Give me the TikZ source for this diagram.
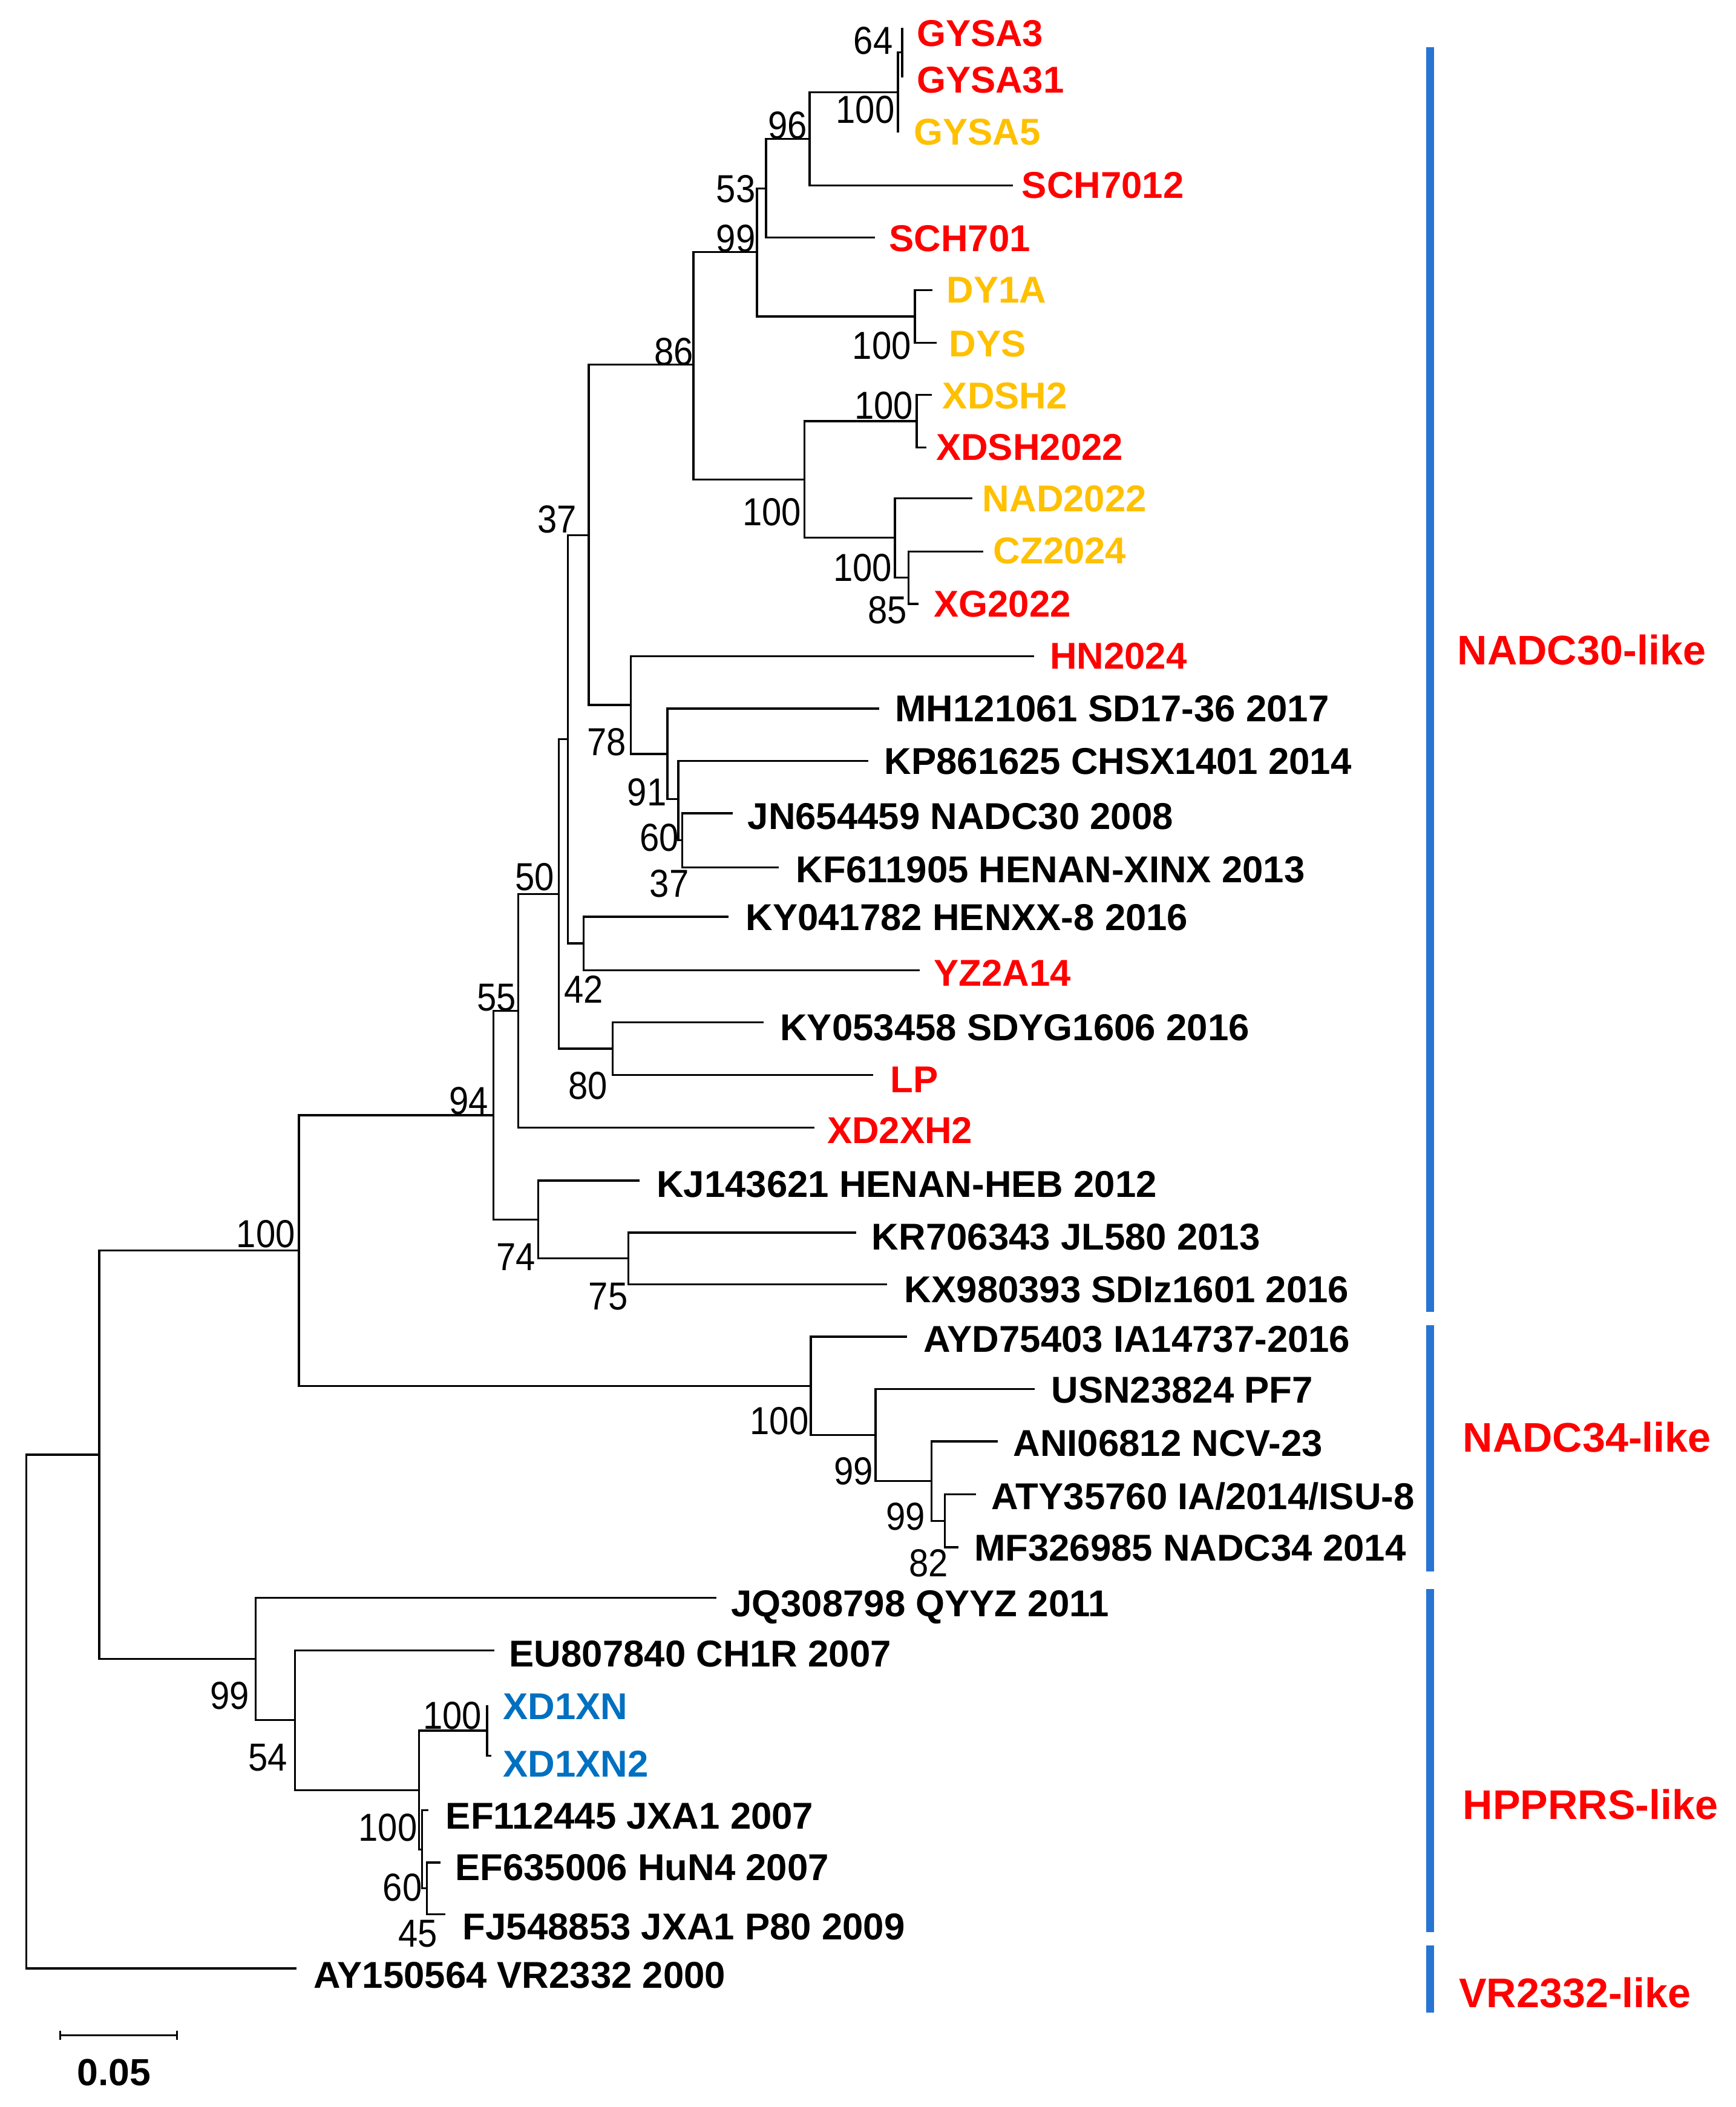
\documentclass[tikz,border=0pt]{standalone}
\usepackage{fontspec}
\setmainfont{Liberation Sans}
\newfontfamily\bsfont[FakeStretch=0.9]{Liberation Sans}
\definecolor{tred}{RGB}{255,0,0}
\definecolor{tgold}{RGB}{255,192,0}
\definecolor{tblue}{RGB}{0,112,192}
\definecolor{barblue}{RGB}{40,116,210}
\begin{document}
\begin{tikzpicture}[x=0.02cm,y=-0.02cm,
  br/.style={line width=0.85pt,black},
  bar/.style={line width=3.4pt,barblue},
  taxon/.style={anchor=west,inner sep=0pt,text height=11.3pt,text depth=0pt,font=\fontsize{15.8}{15.8}\selectfont\bfseries},
  boot/.style={anchor=center,inner sep=0pt,text height=11.8pt,text depth=0pt,font=\bsfont\fontsize{16.5}{16.5}\selectfont},
  grp/.style={anchor=west,inner sep=0pt,text height=12.5pt,text depth=0pt,text=tred,font=\fontsize{17.5}{17.5}\selectfont\bfseries}]
\useasboundingbox (0,0) rectangle (1290,1566);
% leaf tips
\coordinate (L1) at (670.5,20.5);
\coordinate (L2) at (670.5,57.7);
\coordinate (L3) at (667.4,98.3);
\coordinate (L4) at (752.7,137.9);
\coordinate (L5) at (650.2,176.4);
\coordinate (L6) at (693,215.6);
\coordinate (L7) at (696.4,254.8);
\coordinate (L8) at (692.6,293.6);
\coordinate (L9) at (688.5,332.5);
\coordinate (L10) at (722.9,370.5);
\coordinate (L11) at (731,409.9);
\coordinate (L12) at (682.5,448.8);
\coordinate (L13) at (768.5,487.7);
\coordinate (L14) at (653.5,526.6);
\coordinate (L15) at (645.4,565.5);
\coordinate (L16) at (544.5,604.4);
\coordinate (L17) at (578.8,644.6);
\coordinate (L18) at (541.6,681.4);
\coordinate (L19) at (683.6,721);
\coordinate (L20) at (567.4,759.8);
\coordinate (L21) at (649,799);
\coordinate (L22) at (605.3,838.2);
\coordinate (L23) at (475.2,877.4);
\coordinate (L24) at (636.2,916.1);
\coordinate (L25) at (659.2,954.5);
\coordinate (L26) at (674.2,993.5);
\coordinate (L27) at (769,1032.4);
\coordinate (L28) at (741.5,1071.3);
\coordinate (L29) at (725.4,1110.5);
\coordinate (L30) at (712.5,1150);
\coordinate (L31) at (532.7,1187.4);
\coordinate (L32) at (367.6,1226.6);
\coordinate (L33) at (362,1267.5);
\coordinate (L34) at (365.3,1305);
\coordinate (L35) at (318.2,1345.4);
\coordinate (L36) at (327.5,1384.3);
\coordinate (L37) at (331.1,1422.7);
\coordinate (L38) at (220.5,1463);
% internal nodes
\coordinate (nA) at (670.5,39);
\coordinate (nB) at (667.4,68.5);
\coordinate (n96) at (601.7,103.2);
\coordinate (n53) at (569.3,140);
\coordinate (n99a) at (562.6,187.3);
\coordinate (nDY) at (680,235.2);
\coordinate (nXD) at (681.3,313);
\coordinate (nCZ) at (675.2,429.3);
\coordinate (nNAD) at (665.2,399.5);
\coordinate (nBig) at (597.8,356.3);
\coordinate (n86) at (515.4,271.1);
\coordinate (n37b) at (507,624.5);
\coordinate (n60b) at (504.2,594);
\coordinate (n91) at (496.1,560.3);
\coordinate (n78) at (468.7,524);
\coordinate (n37) at (437.6,397.8);
\coordinate (n42) at (433.7,701.2);
\coordinate (nN2) at (422.2,549.5);
\coordinate (n80) at (455.4,779.4);
\coordinate (nN1) at (415.2,664.5);
\coordinate (nN3) at (385.3,751.3);
\coordinate (n75) at (466.9,935.3);
\coordinate (n74) at (400,906.4);
\coordinate (nN4) at (366.8,828.9);
\coordinate (n82) at (702.4,1130.3);
\coordinate (n99c) at (692.3,1100.8);
\coordinate (n99b) at (650.8,1066.6);
\coordinate (nN34) at (602.7,1030);
\coordinate (n100) at (222.2,929.5);
\coordinate (n60c) at (317.3,1403.5);
\coordinate (nQ) at (313.6,1374.5);
\coordinate (nXD1) at (362,1286.3);
\coordinate (nP) at (311.3,1330.4);
\coordinate (n54) at (219.1,1278.5);
\coordinate (n99d) at (190,1232.9);
\coordinate (nH) at (73.8,1081.2);
\coordinate (root) at (19.5,1272);
% branches
\foreach \p/\c in {nA/L1,nA/L2,nB/nA,nB/L3,n96/nB,n96/L4,n53/n96,n53/L5,n99a/n53,n99a/nDY,nDY/L6,nDY/L7,
  n86/n99a,n86/nBig,nBig/nXD,nBig/nNAD,nXD/L8,nXD/L9,nNAD/L10,nNAD/nCZ,nCZ/L11,nCZ/L12,
  n37/n86,n37/n78,n78/L13,n78/n91,n91/L14,n91/n60b,n60b/L15,n60b/n37b,n37b/L16,n37b/L17,
  nN2/n37,nN2/n42,n42/L18,n42/L19,nN1/nN2,nN1/n80,n80/L20,n80/L21,nN3/nN1,nN3/L22,
  nN4/nN3,nN4/n74,n74/L23,n74/n75,n75/L24,n75/L25,n100/nN4,n100/nN34,nN34/L26,nN34/n99b,
  n99b/L27,n99b/n99c,n99c/L28,n99c/n82,n82/L29,n82/L30,nH/n100,nH/n99d,n99d/L31,n99d/n54,
  n54/L32,n54/nP,nP/nXD1,nP/nQ,nXD1/L33,nXD1/L34,nQ/L35,nQ/n60c,n60c/L36,n60c/L37,
  root/nH,root/L38}
  {\draw[br] (\p) |- (\c);}
% taxon labels
\node[taxon,text=tred] (t1) at (681,24.5) {GYSA3};
\node[taxon,text=tred] (t2) at (681,59) {GYSA31};
\node[taxon,text=tgold] (t3) at (679,98) {GYSA5};
\node[taxon,text=tred] (t4) at (759.2,137.3) {SCH7012};
\node[taxon,text=tred] (t5) at (660.6,177) {SCH701};
\node[taxon,text=tgold] (t6) at (703.4,215) {DY1A};
\node[taxon,text=tgold] (t7) at (705.2,255) {DYS};
\node[taxon,text=tgold] (t8) at (700.3,294) {XDSH2};
\node[taxon,text=tred] (t9) at (695.5,332) {XDSH2022};
\node[taxon,text=tgold] (t10) at (730,370.5) {NAD2022};
\node[taxon,text=tgold] (t11) at (738,409) {CZ2024};
\node[taxon,text=tred] (t12) at (693.8,448.5) {XG2022};
\node[taxon,text=tred] (t13) at (780,487.3) {HN2024};
\node[taxon] (t14) at (665,526.3) {MH121061 SD17-36 2017};
\node[taxon] (t15) at (657,565.3) {KP861625 CHSX1401 2014};
\node[taxon] (t16) at (555.4,606.5) {JN654459 NADC30 2008};
\node[taxon] (t17) at (591.5,646) {KF611905 HENAN-XINX 2013};
\node[taxon] (t18) at (554,681.5) {KY041782 HENXX-8 2016};
\node[taxon,text=tred] (t19) at (693.8,723) {YZ2A14};
\node[taxon] (t20) at (579.5,763.3) {KY053458 SDYG1606 2016};
\node[taxon,text=tred] (t21) at (661.5,802) {LP};
\node[taxon,text=tred] (t22) at (614.5,840) {XD2XH2};
\node[taxon] (t23) at (487.7,880) {KJ143621 HENAN-HEB 2012};
\node[taxon] (t24) at (647.7,919) {KR706343 JL580 2013};
\node[taxon] (t25) at (672,958.2) {KX980393 SDIz1601 2016};
\node[taxon] (t26) at (686.3,995) {AYD75403 IA14737-2016};
\node[taxon] (t27) at (781.1,1033) {USN23824 PF7};
\node[taxon] (t28) at (752.8,1072.5) {ANI06812 NCV-23};
\node[taxon] (t29) at (736.7,1112) {ATY35760 IA/2014/ISU-8};
\node[taxon] (t30) at (723.8,1150) {MF326985 NADC34 2014};
\node[taxon] (t31) at (543,1191.5) {JQ308798 QYYZ 2011};
\node[taxon] (t32) at (378.2,1229) {EU807840 CH1R 2007};
\node[taxon,text=tblue] (t33) at (373.6,1268) {XD1XN};
\node[taxon,text=tblue] (t34) at (373.6,1310.5) {XD1XN2};
\node[taxon] (t35) at (331.1,1349.5) {EF112445 JXA1 2007};
\node[taxon] (t36) at (338,1387.5) {EF635006 HuN4 2007};
\node[taxon] (t37) at (343.6,1431.5) {FJ548853 JXA1 P80 2009};
\node[taxon] (t38) at (232.9,1467.5) {AY150564 VR2332 2000};
% bootstrap values
\node[boot] (b64) at (649,30) {64};
\node[boot] (bB) at (643.1,81.2) {100};
\node[boot] (b96) at (585.4,92.8) {96};
\node[boot] (b53) at (546.9,140) {53};
\node[boot] (b99a) at (546.9,176.8) {99};
\node[boot] (b86) at (501,261) {86};
\node[boot] (bDY) at (655.4,256.5) {100};
\node[boot] (bXD) at (656.8,300.9) {100};
\node[boot] (bBig) at (573.6,380) {100};
\node[boot] (bNAD) at (641.2,421.6) {100};
\node[boot] (b85) at (659.5,453.3) {85};
\node[boot] (b37) at (414.2,385.8) {37};
\node[boot] (b78) at (450.9,551.3) {78};
\node[boot] (b91) at (480.8,588.3) {91};
\node[boot] (b60b) at (490.1,622) {60};
\node[boot] (b37b) at (497.5,656.3) {37};
\node[boot] (b50) at (397.3,651.4) {50};
\node[boot] (b42) at (434,735) {42};
\node[boot] (b80) at (436.9,806.5) {80};
\node[boot] (b55) at (369,740.8) {55};
\node[boot] (b94) at (348.5,818) {94};
\node[boot] (b74) at (383.4,933.9) {74};
\node[boot] (b75) at (452,963.3) {75};
\node[boot] (b100) at (197.5,916.8) {100};
\node[boot] (bN34) at (579.3,1055.7) {100};
\node[boot] (b99b) at (634.4,1092.9) {99};
\node[boot] (b99c) at (673.2,1127) {99};
\node[boot] (b82) at (690.3,1161.2) {82};
\node[boot] (b99d) at (170.9,1260) {99};
\node[boot] (b54) at (199,1305.8) {54};
\node[boot] (bXD1) at (336.2,1274.9) {100};
\node[boot] (bQ) at (288.3,1358.1) {100};
\node[boot] (b60c) at (299.1,1402.5) {60};
\node[boot] (b45) at (310.5,1436.7) {45};
% scale bar
\coordinate (sb1) at (44.7,1512.7);
\coordinate (sb2) at (131.4,1512.7);
\draw[br] (sb1) -- (sb2);
\draw[br] (sb1) ++(0,-3.5) -- ++(0,7);
\draw[br] (sb2) ++(0,-3.5) -- ++(0,7);
\node[boot,font=\fontsize{16}{16}\selectfont\bfseries,text height=11.46pt] (sblab) at (84.8,1540) {0.05};
% clade bars
\draw[bar] (1063,35) -- (1063,975);
\draw[bar] (1063,985) -- (1063,1168);
\draw[bar] (1063,1181) -- (1063,1436);
\draw[bar] (1063,1446) -- (1063,1496);
\node[grp] (g1) at (1083,483) {NADC30-like};
\node[grp] (g2) at (1087,1068) {NADC34-like};
\node[grp] (g3) at (1087,1341) {HPPRRS-like};
\node[grp] (g4) at (1084,1481) {VR2332-like};
\end{tikzpicture}
\end{document}
